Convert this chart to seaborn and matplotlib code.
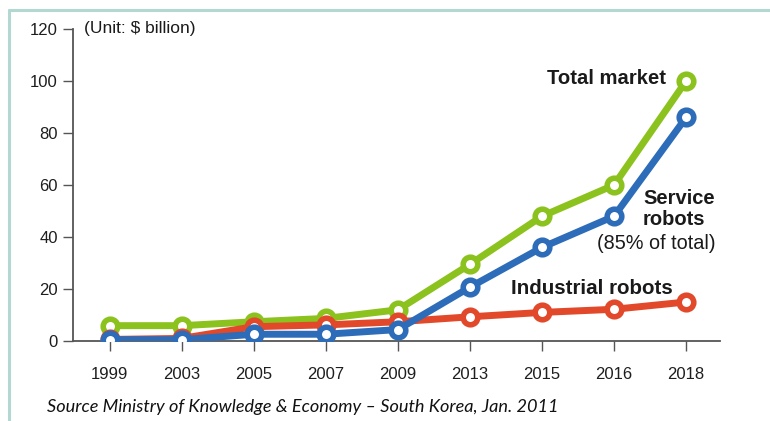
import matplotlib
matplotlib.use("Agg")
import matplotlib.pyplot as plt
from matplotlib.lines import Line2D
import seaborn as sns
import pandas as pd

# Robot market size, $ billion
years = ["1999", "2003", "2005", "2007", "2009", "2013", "2015", "2016", "2018"]
total_market = [5.9, 5.9, 7.4, 8.7, 12.0, 29.5, 48.0, 60.0, 100.0]
industrial_robots = [0.6, 1.0, 5.5, 6.2, 7.4, 9.3, 11.0, 12.2, 15.0]
service_robots = [0.5, 0.5, 2.6, 2.6, 4.4, 20.7, 36.0, 48.0, 86.0]
y_ticks = [0, 20, 40, 60, 80, 100, 120]

series_names = ["Total market", "Industrial robots", "Service robots"]
palette = {"Total market": "#8cc21d", "Industrial robots": "#e2482a",
           "Service robots": "#2d6cb8"}

df = pd.concat([
    pd.DataFrame({"year": years, "value": vals, "series": name})
    for name, vals in zip(series_names, [total_market, industrial_robots, service_robots])
], ignore_index=True)

sns.set_theme(style="white")
plt.rcParams["font.family"] = ["Liberation Sans", "DejaVu Sans"]

fig = plt.figure(figsize=(7.7, 4.21), dpi=100)
ax = fig.add_axes([73 / 770, 1 - 341 / 421, (720 - 73) / 770, (341 - 29) / 421])

for name in series_names:
    sub = df[df["series"] == name]
    sns.lineplot(data=sub, x="year", y="value", ax=ax, color=palette[name],
                 linewidth=5.0, marker="o", markersize=10.5,
                 markerfacecolor="white", markeredgecolor=palette[name],
                 markeredgewidth=4.0, sort=False, legend=False, zorder=3)

ax.set_xlim(-0.51, len(years) - 0.53)
ax.set_ylim(0, 120)
ax.set_yticks(y_ticks)
ax.set_xticks(range(len(years)))
ax.set_xticklabels(years)
ax.set_xlabel("")
ax.set_ylabel("")

for side in ["top", "right"]:
    ax.spines[side].set_visible(False)
for side in ["left", "bottom"]:
    ax.spines[side].set_color("#555555")
    ax.spines[side].set_linewidth(1.3)

ax.tick_params(axis="both", which="both", direction="out", length=7, width=1.0,
               color="#555555", labelsize=12, labelcolor="#1e1e1e")
ax.tick_params(axis="x", pad=12, bottom=True)
ax.tick_params(axis="y", pad=4, left=True)

txt = "#1a1a1a"
fig.text(84 / 770, 1 - 29 / 421, "(Unit: $ billion)", fontsize=12.5, color=txt,
         ha="left", va="center")
fig.text(666 / 770, 1 - 78 / 421, "Total market", fontsize=14.6, fontweight="bold",
         color=txt, ha="right", va="center")
fig.text(643 / 770, 1 - 198 / 421, "Service", fontsize=14.5, fontweight="bold",
         color=txt, ha="left", va="center")
fig.text(643 / 770, 1 - 220 / 421, "robots", fontsize=14.5, fontweight="bold",
         color=txt, ha="left", va="center")
fig.text(597 / 770, 1 - 243 / 421, "(85% of total)", fontsize=14.3, color=txt,
         ha="left", va="center")
fig.text(511 / 770, 1 - 289 / 421, "Industrial robots", fontsize=14.8,
         fontweight="bold", color=txt, ha="left", va="center")
fig.text(47 / 770, 1 - 407 / 421,
         "Source Ministry of Knowledge & Economy \u2013 South Korea, Jan. 2011",
         fontsize=13.1, fontstyle="italic", color="#111111", ha="left", va="center",
         family=["Lato", "DejaVu Sans"])

# light frame along the top and left edges
frame = "#b3d8d2"
fig.add_artist(Line2D([8.5 / 770, 1.0], [1 - 9.5 / 421, 1 - 9.5 / 421],
                      transform=fig.transFigure, color=frame, linewidth=2.2))
fig.add_artist(Line2D([8.5 / 770, 8.5 / 770], [0.0, 1 - 9.5 / 421],
                      transform=fig.transFigure, color=frame, linewidth=2.2))

fig.savefig("out.png", dpi=100, facecolor="white")
